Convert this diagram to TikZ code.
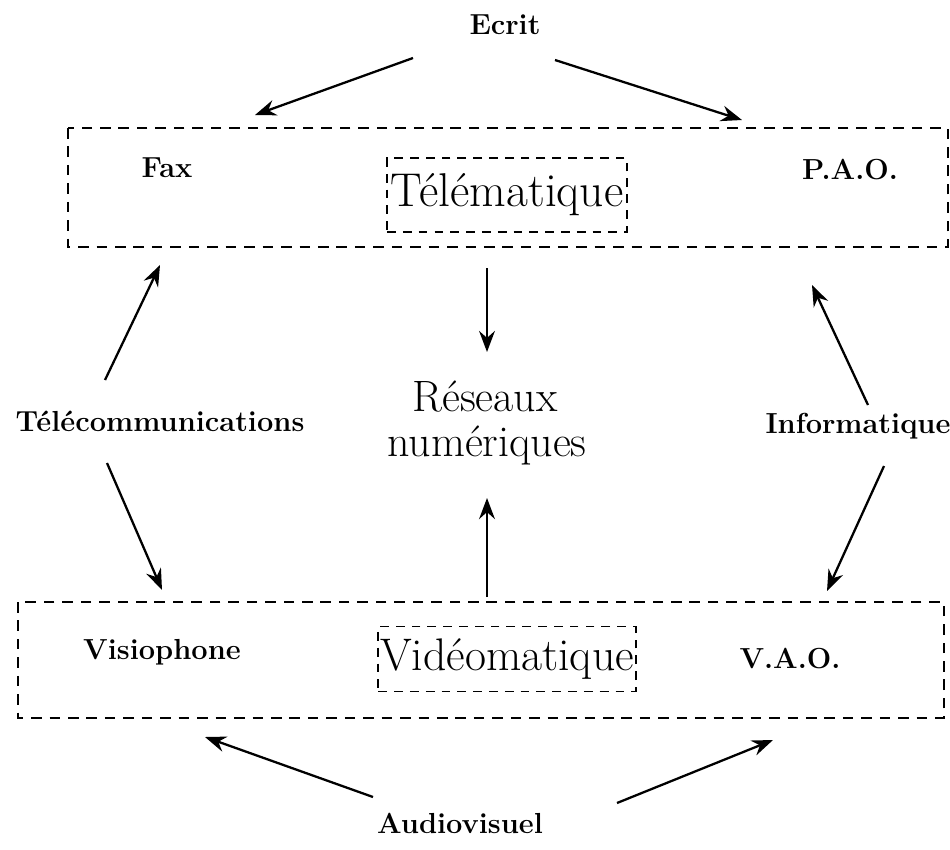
\documentclass[tikz,border=0pt]{standalone}
\usepackage{tikz}
\usetikzlibrary{arrows.meta}

\begin{document}
\begin{tikzpicture}[x=0.02cm, y=-0.02cm,
    arr/.style={line width=1.3pt, -{Stealth[length=12pt, width=9pt, inset=4pt]}},
    dashbox/.style={line width=1pt, dash pattern=on 6pt off 4.5pt},
    inbox/.style={draw, line width=1pt, dash pattern=on 5pt off 4pt, inner xsep=2pt},
    lab/.style={font=\fontsize{16.5}{19}\selectfont\bfseries},
    big/.style={font=\fontsize{27}{30}\selectfont}]
    \useasboundingbox (0,0) rectangle (950,849);

    % boxes
    \draw[dashbox] (68,128) rectangle (948,247);
    \draw[dashbox] (18,602) rectangle (944,718);

    \node[inbox, big, minimum height=42pt] (tele) at (507,195) {Télématique};
    \node[inbox, big, font=\fontsize{26}{30}\selectfont, minimum height=37pt, inner xsep=1pt] (video) at (507,659) {Vidéomatique};

    \node[lab] (ecrit) at (505,25) {Ecrit};
    \node[lab] (fax) at (167,168) {Fax};
    \node[lab] (pao) at (850,170) {P.A.O.};
    \node[lab] (telecom) at (160,421) {Télécommunications};
    \node[lab] (info) at (858,426) {Informatique};
    \node[big, font=\fontsize{25}{30}\selectfont, inner sep=0pt] (reseaux) at (485,397) {Réseaux};
    \node[big, font=\fontsize{25}{30}\selectfont, inner sep=0pt] (numer) at (487,445) {numériques};
    \node[lab] (visio) at (162,652) {Visiophone};
    \node[lab] (vao) at (790,659) {V.A.O.};
    \node[lab] (audio) at (460,823) {Audiovisuel};

    % arrow ends
    \coordinate (a1) at (413,58);   \coordinate (b1) at (255,115);
    \coordinate (a2) at (555,60);   \coordinate (b2) at (742,120);
    \coordinate (a3) at (105,380);  \coordinate (b3) at (160,265);
    \coordinate (a4) at (487,268);  \coordinate (b4) at (487,352);
    \coordinate (a5) at (868,405);  \coordinate (b5) at (812,285);
    \coordinate (a6) at (107,463);  \coordinate (b6) at (162,590);
    \coordinate (a7) at (487,597);  \coordinate (b7) at (487,498);
    \coordinate (a8) at (884,466);  \coordinate (b8) at (827,591);
    \coordinate (a9) at (373,797);  \coordinate (b9) at (205,737);
    \coordinate (a10) at (617,803); \coordinate (b10) at (773,740);

    \foreach \i in {1,...,10}
        \draw[arr] (a\i) -- (b\i);

\end{tikzpicture}
\end{document}
